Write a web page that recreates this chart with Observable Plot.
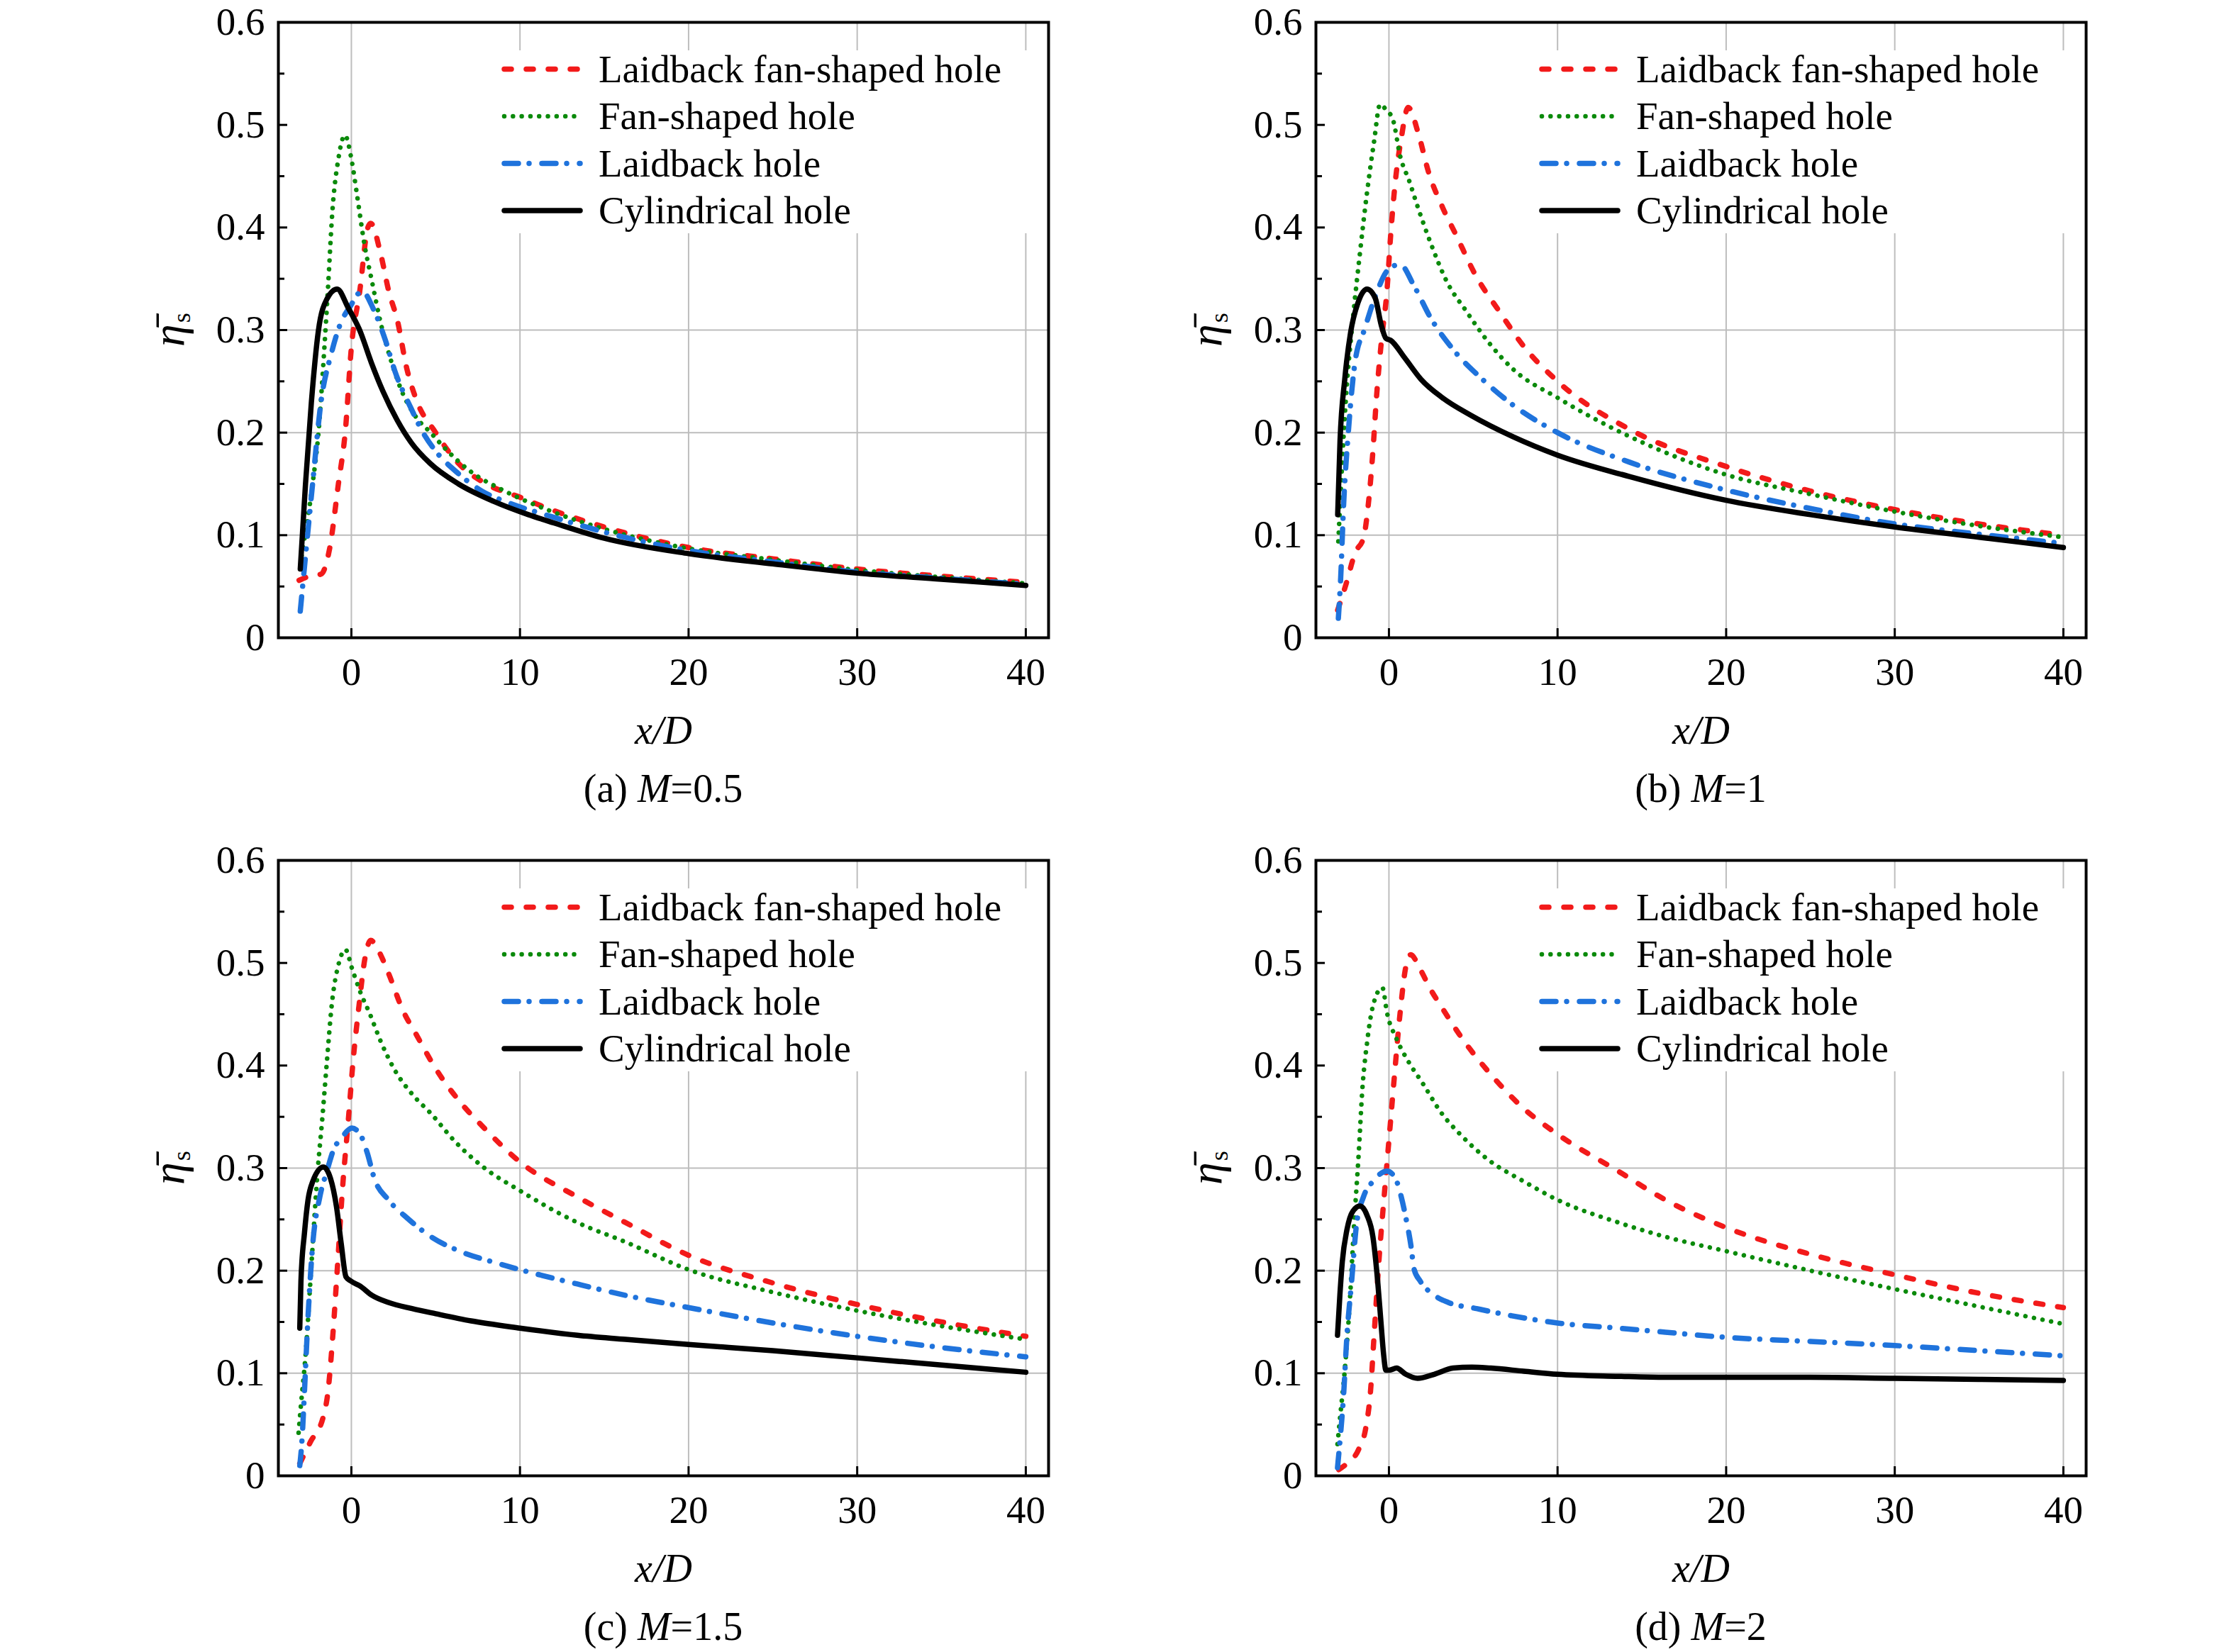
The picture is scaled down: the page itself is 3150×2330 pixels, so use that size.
<!DOCTYPE html>
<html>
<head>
<meta charset="utf-8">
<script src="https://cdn.jsdelivr.net/npm/d3@7"></script>
<script src="https://cdn.jsdelivr.net/npm/@observablehq/plot@0.6"></script>
<style>
  html, body { margin: 0; padding: 0; background: #fff; }
  body { position: relative; width: 3150px; height: 2330px; overflow: hidden; }
  svg { position: absolute; }
</style>
</head>
<body>
<script>
// ---------------- data ----------------
const seriesNames = ["Laidback fan-shaped hole", "Fan-shaped hole", "Laidback hole", "Cylindrical hole"];
const panelLetters = ["(a)", "(b)", "(c)", "(d)"];
const blowingRatios = ["0.5", "1", "1.5", "2"];
const xTicks = [0, 10, 20, 30, 40];
const yTicks = [0, 0.1, 0.2, 0.3, 0.4, 0.5, 0.6];
const yMinorTicks = [0.05, 0.15, 0.25, 0.35, 0.45, 0.55];
const xGrid = [0, 10, 20, 30, 40];
const yGrid = [0.1, 0.2, 0.3];

// Panel (a) M=0.5
const a_laidbackFan = [[-3.1,0.056],[-2.5,0.06],[-1.8,0.062],[-1.3,0.086],[-0.77,0.15],[-0.35,0.203],[0,0.283],[0.49,0.337],[0.98,0.4],[1.15,0.404],[1.74,0.374],[2.23,0.337],[2.72,0.31],[3.28,0.263],[3.83,0.233],[5.0,0.2],[6.35,0.17],[8,0.15],[10,0.137],[12,0.124],[15,0.108],[20,0.088],[25,0.077],[30,0.067],[35,0.06],[40,0.054]];
const a_fan = [[-2.95,0.08],[-2.3,0.15],[-1.95,0.2],[-1.6,0.283],[-1.39,0.34],[-1.12,0.417],[-0.77,0.467],[-0.38,0.49],[0,0.467],[0.35,0.43],[0.77,0.384],[1.19,0.35],[1.74,0.307],[2.3,0.273],[3.0,0.24],[3.8,0.216],[4.7,0.2],[5.65,0.183],[7,0.163],[9.1,0.143],[11.9,0.123],[15,0.106],[20,0.087],[25,0.076],[30,0.066],[35,0.059],[40,0.053]];
const a_laidback = [[-3.03,0.026],[-2.7,0.083],[-2.3,0.15],[-1.8,0.23],[-1.19,0.277],[-0.63,0.307],[-0.07,0.323],[0.63,0.338],[1.32,0.32],[2.02,0.29],[2.58,0.26],[3.56,0.223],[4.25,0.2],[4.95,0.183],[6.35,0.16],[7.74,0.143],[9.1,0.133],[11.9,0.118],[15,0.103],[20,0.085],[25,0.074],[30,0.064],[35,0.058],[40,0.052]];
const a_cylindrical = [[-3.03,0.067],[-2.72,0.15],[-2.37,0.23],[-1.95,0.3],[-1.46,0.33],[-0.84,0.34],[-0.2,0.322],[0.49,0.3],[1.19,0.268],[1.88,0.24],[2.72,0.212],[3.56,0.19],[4.67,0.17],[6.35,0.15],[8.44,0.133],[10.5,0.12],[12,0.112],[15,0.097],[20,0.082],[25,0.072],[30,0.063],[35,0.057],[40,0.051]];

// Panel (b) M=1
const b_laidbackFan = [[-3.04,0.027],[-2.55,0.052],[-2.0,0.083],[-1.5,0.098],[-1.23,0.129],[-0.95,0.182],[-0.74,0.234],[-0.46,0.287],[-0.11,0.34],[0.1,0.392],[0.38,0.445],[0.73,0.487],[1.14,0.517],[1.77,0.49],[2.33,0.455],[3.17,0.42],[4.0,0.392],[5.12,0.354],[6.51,0.319],[8.05,0.283],[10,0.25],[14.3,0.203],[20,0.167],[25,0.143],[30,0.125],[35,0.111],[40,0.1]];
const b_fan = [[-3.0,0.094],[-2.9,0.129],[-2.55,0.234],[-2.13,0.312],[-1.72,0.375],[-1.3,0.434],[-0.88,0.484],[-0.53,0.52],[-0.18,0.515],[0.24,0.505],[0.66,0.47],[1.21,0.445],[1.77,0.417],[2.47,0.385],[3.44,0.347],[4.56,0.319],[5.96,0.287],[7.35,0.262],[10,0.234],[14.3,0.196],[20,0.159],[25,0.14],[30,0.123],[35,0.109],[40,0.098]];
const b_laidback = [[-3.0,0.019],[-2.86,0.059],[-2.69,0.129],[-2.41,0.2],[-2.0,0.27],[-1.44,0.301],[-0.74,0.336],[-0.04,0.359],[0.66,0.364],[1.49,0.343],[2.47,0.312],[3.86,0.28],[5.54,0.252],[7.35,0.227],[10,0.2],[14.3,0.171],[20,0.144],[25,0.126],[30,0.111],[35,0.101],[40,0.092]];
const b_cylindrical = [[-3.04,0.12],[-2.9,0.192],[-2.62,0.252],[-2.27,0.298],[-1.85,0.326],[-1.3,0.34],[-0.81,0.331],[-0.46,0.305],[-0.18,0.292],[0.1,0.29],[0.93,0.273],[1.9,0.252],[3.17,0.234],[4.84,0.217],[7.35,0.196],[10,0.178],[14.3,0.157],[20,0.134],[25,0.12],[30,0.108],[35,0.098],[40,0.088]];

// Panel (c) M=1.5
const c_laidbackFan = [[-3.06,0.012],[-2.43,0.033],[-1.66,0.058],[-1.38,0.083],[-1.1,0.137],[-0.81,0.208],[-0.53,0.279],[-0.18,0.347],[0.1,0.404],[0.45,0.458],[0.8,0.504],[1.15,0.522],[1.64,0.511],[2.2,0.49],[3.05,0.454],[3.89,0.429],[5.0,0.397],[6.42,0.365],[7.82,0.34],[10,0.306],[13.4,0.272],[16.25,0.247],[20,0.215],[25,0.188],[30,0.167],[35,0.15],[40,0.136]];
const c_fan = [[-3.13,0.042],[-2.99,0.069],[-2.71,0.119],[-2.36,0.208],[-2.0,0.297],[-1.73,0.347],[-1.45,0.404],[-1.17,0.458],[-0.74,0.5],[-0.35,0.513],[0.03,0.495],[0.52,0.472],[1.08,0.451],[1.78,0.422],[2.63,0.394],[3.61,0.372],[4.73,0.353],[6.14,0.326],[7.82,0.301],[10,0.278],[13.4,0.247],[16.25,0.228],[20,0.201],[25,0.179],[30,0.161],[35,0.146],[40,0.133]];
const c_laidback = [[-3.06,0.01],[-2.92,0.037],[-2.78,0.083],[-2.57,0.155],[-2.29,0.226],[-1.87,0.272],[-1.45,0.297],[-1.03,0.319],[-0.6,0.329],[0.03,0.339],[0.52,0.333],[0.94,0.315],[1.36,0.29],[2.2,0.269],[3.33,0.251],[4.73,0.233],[6.42,0.219],[8.5,0.208],[10,0.201],[13.4,0.187],[16.25,0.176],[20,0.164],[25,0.149],[30,0.136],[35,0.125],[40,0.116]];
const c_cylindrical = [[-3.06,0.144],[-2.99,0.19],[-2.78,0.237],[-2.57,0.269],[-2.29,0.287],[-1.66,0.301],[-1.24,0.29],[-0.88,0.262],[-0.6,0.226],[-0.32,0.194],[-0.04,0.19],[0.52,0.185],[1.22,0.176],[2.2,0.169],[3.6,0.163],[5.0,0.158],[7.1,0.151],[10,0.144],[13.4,0.137],[16.25,0.133],[20,0.128],[25,0.122],[30,0.115],[35,0.108],[40,0.101]];

// Panel (d) M=2
const d_laidbackFan = [[-2.98,0.006],[-2.49,0.012],[-1.79,0.026],[-1.37,0.047],[-1.09,0.083],[-0.88,0.137],[-0.6,0.208],[-0.25,0.279],[0.03,0.333],[0.31,0.387],[0.66,0.451],[1.01,0.497],[1.29,0.508],[1.85,0.494],[2.41,0.476],[3.24,0.454],[4.36,0.426],[5.9,0.394],[8.0,0.358],[10,0.333],[13.6,0.297],[16.4,0.269],[20,0.242],[25,0.216],[30,0.196],[35,0.178],[40,0.164]];
const d_fan = [[-3.05,0.031],[-2.91,0.055],[-2.63,0.101],[-2.35,0.162],[-2.07,0.244],[-1.79,0.315],[-1.58,0.376],[-1.3,0.422],[-0.95,0.458],[-0.39,0.476],[-0.11,0.451],[0.45,0.426],[1.15,0.404],[1.99,0.383],[3.1,0.354],[4.22,0.333],[5.9,0.308],[8.0,0.287],[10,0.269],[13.6,0.247],[16.4,0.233],[20,0.219],[25,0.2],[30,0.182],[35,0.165],[40,0.148]];
const d_laidback = [[-3.05,0.008],[-2.91,0.033],[-2.7,0.076],[-2.49,0.137],[-2.21,0.19],[-1.93,0.244],[-1.51,0.272],[-0.95,0.287],[-0.11,0.297],[0.38,0.29],[0.73,0.272],[1.01,0.251],[1.29,0.226],[1.5,0.201],[1.85,0.19],[2.69,0.176],[3.52,0.169],[5.2,0.163],[7.3,0.156],[10,0.149],[13.6,0.144],[16.4,0.14],[20,0.135],[25,0.131],[30,0.127],[35,0.122],[40,0.117]];
const d_cylindrical = [[-3.05,0.137],[-2.91,0.176],[-2.77,0.208],[-2.49,0.24],[-2.14,0.258],[-1.72,0.263],[-1.3,0.254],[-0.95,0.233],[-0.67,0.19],[-0.46,0.147],[-0.32,0.119],[-0.18,0.103],[0.03,0.103],[0.45,0.105],[1.0,0.099],[1.7,0.095],[2.69,0.099],[3.8,0.105],[4.92,0.106],[6.04,0.105],[8.0,0.102],[10,0.099],[13.6,0.097],[16.4,0.096],[20,0.096],[25,0.096],[30,0.095],[35,0.094],[40,0.093]];

const panelSeries = [
  [a_laidbackFan, a_fan, a_laidback, a_cylindrical],
  [b_laidbackFan, b_fan, b_laidback, b_cylindrical],
  [c_laidbackFan, c_fan, c_laidback, c_cylindrical],
  [d_laidbackFan, d_fan, d_laidback, d_cylindrical]
];

// ---------------- styles / layout ----------------
const FONT = "'Liberation Serif','Times New Roman',Times,serif";
const styles = [
  {stroke: "#f21a1a", strokeWidth: 7.5, dash: "10,21"},
  {stroke: "#0b8a0b", strokeWidth: 6.5, dash: "0.01,12.3"},
  {stroke: "#1f73dc", strokeWidth: 7.5, dash: "20,15,0.01,18"},
  {stroke: "#000000", strokeWidth: 7.5, dash: null}
];
const GRID = "#bdbdbd";
const W = 1400, H = 1150, ML = 300, MR = 14, MT = 31, MB = 251;
const FW = W - ML - MR, FH = H - MT - MB;
const X_DOMAIN = [-4.33, 41.35], Y_DOMAIN = [0, 0.6];
const pxX = FW / (X_DOMAIN[1] - X_DOMAIN[0]);
const pxY = FH / (Y_DOMAIN[1] - Y_DOMAIN[0]);
const positions = [[92, 0], [1555, 0], [92, 1182], [1555, 1182]];

function drawPanel(k) {
  const lines = panelSeries[k].map((pts, i) => Plot.line(pts, {
    x: d => d[0], y: d => d[1],
    stroke: styles[i].stroke, strokeWidth: styles[i].strokeWidth,
    strokeDasharray: styles[i].dash, strokeLinecap: "round", strokeLinejoin: "round",
    curve: "monotone-x"
  }));
  const chart = Plot.plot({
    width: W, height: H,
    marginLeft: ML, marginRight: MR, marginTop: MT, marginBottom: MB,
    x: {domain: X_DOMAIN},
    y: {domain: Y_DOMAIN},
    style: {fontFamily: FONT, fontSize: "55px", color: "black", background: "white"},
    marks: [
      Plot.ruleX(xGrid, {stroke: GRID, strokeWidth: 2}),
      Plot.ruleY(yGrid, {stroke: GRID, strokeWidth: 2}),
      ...lines,
      Plot.ruleY(yMinorTicks, {x1: X_DOMAIN[0], x2: X_DOMAIN[0] + 9 / pxX, stroke: "black", strokeWidth: 3}),
      Plot.ruleY(yTicks, {x1: X_DOMAIN[0], x2: X_DOMAIN[0] + 13 / pxX, stroke: "black", strokeWidth: 3}),
      Plot.ruleX(xTicks, {y1: Y_DOMAIN[0], y2: Y_DOMAIN[0] + 13 / pxY, stroke: "black", strokeWidth: 3}),
      Plot.frame({stroke: "black", strokeWidth: 4}),
      Plot.axisY(yTicks, {anchor: "left", tickSize: 0, tickPadding: 19, tickFormat: d => String(d), fontSize: 55, label: null}),
      Plot.axisX(xTicks, {anchor: "bottom", tickSize: 0, tickPadding: 27, tickFormat: d => String(d), fontSize: 55, label: null}),
      Plot.text(["x/D"], {frameAnchor: "bottom", dy: 149, fontStyle: "italic", fontSize: 56})
    ]
  });
  chart.style.left = positions[k][0] + "px";
  chart.style.top = positions[k][1] + "px";
  document.body.appendChild(chart);

  const svg = d3.select(chart);
  // legend
  const lg = svg.append("g").attr("transform", `translate(${ML},${MT})`);
  lg.append("rect").attr("x", 308).attr("y", 40).attr("width", FW - 308 - 8).attr("height", 258).attr("fill", "white");
  seriesNames.forEach((name, i) => {
    const cy = 66.5 + i * 66.5;
    lg.append("line").attr("x1", 319).attr("x2", 426).attr("y1", cy).attr("y2", cy)
      .attr("stroke", styles[i].stroke).attr("stroke-width", styles[i].strokeWidth)
      .attr("stroke-dasharray", styles[i].dash).attr("stroke-linecap", "round");
    lg.append("text").attr("x", 452).attr("y", cy).attr("dy", "0.33em")
      .attr("text-anchor", "start")
      .attr("font-family", FONT).attr("font-size", 55).attr("fill", "black").text(name);
  });
  // y-axis label
  const yl = svg.append("text")
    .attr("transform", `translate(${ML - 152},${MT + FH / 2}) rotate(-90)`)
    .attr("text-anchor", "middle").attr("dy", "0.3em")
    .attr("font-family", FONT).attr("font-size", 64).attr("fill", "black");
  yl.append("tspan").attr("font-style", "italic").text("\u03B7\u0304");
  yl.append("tspan").attr("font-size", 36).attr("dy", "0.25em").attr("dx", "2").text("s");
  // caption
  const cap = svg.append("text")
    .attr("x", ML + FW / 2).attr("y", MT + FH + 212).attr("dy", "0.35em")
    .attr("text-anchor", "middle").attr("font-family", FONT).attr("font-size", 56)
    .attr("fill", "black").style("white-space", "pre");
  cap.append("tspan").text(panelLetters[k] + " ");
  cap.append("tspan").attr("font-style", "italic").text("M");
  cap.append("tspan").text("=" + blowingRatios[k]);
}

for (let k = 0; k < 4; k++) drawPanel(k);
</script>
</body>
</html>
